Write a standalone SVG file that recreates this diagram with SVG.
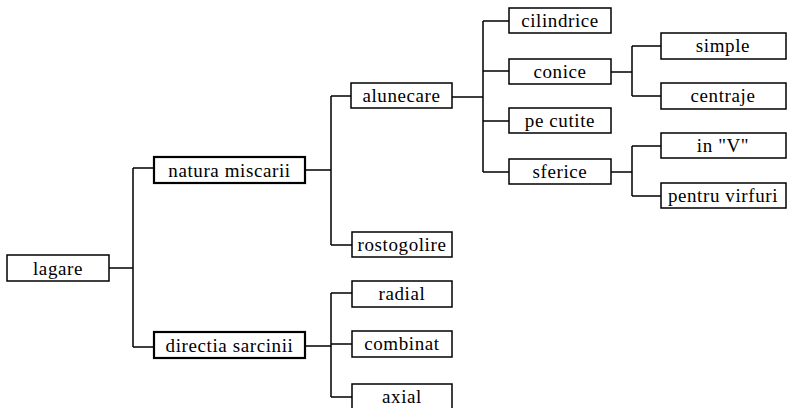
<svg xmlns="http://www.w3.org/2000/svg" width="787" height="408" viewBox="0 0 787 408">
<style>
.box{fill:#fff;stroke:#000;stroke-width:1.5}
.thick{stroke-width:2.2}
.lbl{font-size:19px;letter-spacing:0.6px;fill:#000;text-anchor:middle}
.conn{fill:none;stroke:#000;stroke-width:1.5}
</style>
<rect width="787" height="408" fill="#fff"/>
<g id="connectors">
<path class="conn" d="M109,268 H133 M133,168 V347 M133,168 H154 M133,347 H154"/>
<path class="conn" d="M305,170 H331 M331,96 V245 M331,96 H351 M331,245 H352"/>
<path class="conn" d="M305,346 H331 M331,293 V397 M331,293 H352 M331,344 H352 M331,397 H352"/>
<path class="conn" d="M452,97 H483 M483,21 V172 M483,21 H509 M483,71 H509 M483,121 H509 M483,172 H509"/>
<path class="conn" d="M611,72 H632 M632,46 V96 M632,46 H661 M632,96 H661"/>
<path class="conn" d="M611,172 H632 M632,146 V196 M632,146 H661 M632,196 H661"/>
</g>
<g font-family="Liberation Serif, DejaVu Serif, serif">
<g id="lagare"><rect class="box" x="7" y="255" width="102" height="26"/><text class="lbl" x="58" y="275">lagare</text></g>
<g id="natura"><rect class="box thick" x="154" y="157" width="151" height="26"/><text class="lbl" x="229.5" y="177">natura miscarii</text></g>
<g id="directia"><rect class="box thick" x="154" y="332" width="151" height="26"/><text class="lbl" x="229.5" y="352">directia sarcinii</text></g>
<g id="alunecare"><rect class="box" x="351" y="83" width="101" height="25"/><text class="lbl" x="401.5" y="102">alunecare</text></g>
<g id="rostogolire"><rect class="box" x="352" y="232" width="100" height="25"/><text class="lbl" x="402" y="251">rostogolire</text></g>
<g id="radial"><rect class="box" x="352" y="281" width="100" height="26"/><text class="lbl" x="402" y="300">radial</text></g>
<g id="combinat"><rect class="box" x="352" y="331" width="100" height="26"/><text class="lbl" x="402" y="350">combinat</text></g>
<g id="axial"><rect class="box" x="352" y="384" width="100" height="26"/><text class="lbl" x="402" y="403">axial</text></g>
<g id="cilindrice"><rect class="box" x="509" y="8" width="102" height="25"/><text class="lbl" x="560" y="27">cilindrice</text></g>
<g id="conice"><rect class="box" x="509" y="59" width="102" height="25"/><text class="lbl" x="560" y="78">conice</text></g>
<g id="pecutite"><rect class="box" x="509" y="108" width="102" height="25"/><text class="lbl" x="560" y="127">pe cutite</text></g>
<g id="sferice"><rect class="box" x="509" y="159" width="102" height="25"/><text class="lbl" x="560" y="178">sferice</text></g>
<g id="simple"><rect class="box" x="661" y="33" width="125" height="26"/><text class="lbl" x="723" y="52">simple</text></g>
<g id="centraje"><rect class="box" x="661" y="83" width="125" height="26"/><text class="lbl" x="723" y="102">centraje</text></g>
<g id="inV"><rect class="box" x="661" y="133" width="125" height="25"/><text class="lbl" x="723" y="152">in "V"</text></g>
<g id="pentru"><rect class="box" x="661" y="183" width="125" height="25"/><text class="lbl" x="723" y="202">pentru virfuri</text></g>
</g>
</svg>
